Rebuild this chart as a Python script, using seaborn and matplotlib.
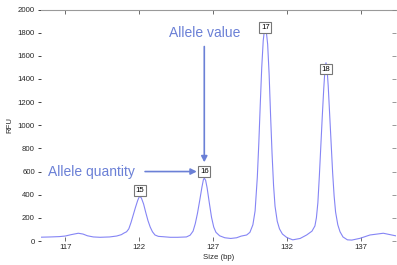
import matplotlib
matplotlib.use("Agg")
import matplotlib.pyplot as plt
import seaborn as sns
import pandas as pd

# ---- data ----
size_bp = [115.1, 116.0, 116.6, 117.0, 117.4, 117.88, 118.2, 118.5, 118.9, 119.35,
           120.0, 120.48, 120.8, 120.95, 121.15, 121.3, 121.45, 121.6, 121.75, 121.9,
           122.0, 122.05, 122.15, 122.3, 122.45, 122.6, 122.75, 122.9, 123.07, 123.3,
           123.63, 124.1, 124.6, 125.2, 125.45, 125.65, 125.8, 125.95, 126.1, 126.25,
           126.35, 126.41, 126.5, 126.6, 126.75, 126.9, 127.05, 127.2, 127.45, 127.8,
           128.2, 128.6, 128.9, 129.28, 129.5, 129.7, 129.85, 130.0, 130.1, 130.2,
           130.3, 130.4, 130.48, 130.54, 130.6, 130.7, 130.8, 130.9, 131.0, 131.1,
           131.2, 131.35, 131.5, 131.7, 132.0, 132.4, 132.9, 133.34, 133.7, 133.9,
           134.0, 134.1, 134.2, 134.3, 134.4, 134.5, 134.58, 134.65, 134.72, 134.8,
           134.9, 135.0, 135.1, 135.2, 135.3, 135.45, 135.6, 135.8, 136.1, 136.4,
           136.95, 137.63, 138.53, 139.44]
rfu = [32, 35, 38, 43, 55, 67, 60, 45, 35, 32,
       35, 43, 55, 67, 80, 105, 160, 225, 290, 350,
       380, 384, 372, 320, 245, 175, 120, 80, 52, 40,
       37, 32, 32, 35, 50, 85, 150, 240, 350, 465,
       530, 543, 525, 460, 330, 205, 120, 75, 45, 28,
       22, 28, 42, 52, 75, 140, 260, 550, 840, 1180,
       1500, 1730, 1820, 1840, 1820, 1700, 1440, 1080, 750, 480,
       300, 170, 105, 60, 30, 10, 22, 52, 85, 130,
       200, 330, 560, 820, 1080, 1320, 1480, 1540, 1490, 1340,
       1090, 840, 590, 390, 250, 140, 80, 35, 10, 8,
       23, 52, 67, 43]

allele_names = ["15", "16", "17", "18"]
allele_pos = [122.05, 126.41, 130.54, 134.65]
allele_label_y = [435, 600, 1845, 1485]

x_ticks = [117, 122, 127, 132, 137]
y_ticks = [0, 200, 400, 600, 800, 1000, 1200, 1400, 1600, 1800, 2000]

df = pd.DataFrame({"Size (bp)": size_bp, "RFU": rfu})

# ---- style ----
sns.set_style("white")
plt.rcParams["font.family"] = ["Liberation Sans", "DejaVu Sans"]

W, H = 397, 265
fig = plt.figure(figsize=(W / 100, H / 100), dpi=100)
left_px, right_px, top_px, bottom_px = 40.5, 396.0, 9.5, 241.0
ax = fig.add_axes([left_px / W, (H - bottom_px) / H,
                   (right_px - left_px) / W, (bottom_px - top_px) / H])

line_col = "#8585f5"
sns.lineplot(data=df, x="Size (bp)", y="RFU", ax=ax, color=line_col, linewidth=0.8)

x_lo = 117 - (65.3 - left_px) / 14.77
x_hi = 137 + (right_px - 360.7) / 14.77
ax.set_xlim(x_lo, x_hi)
ax.set_ylim(0, 2000)

ax.set_xticks(x_ticks)
ax.set_yticks(y_ticks)
ax.set_xticklabels([str(t) for t in x_ticks], fontsize=5.6)
ax.set_yticklabels([str(t) for t in y_ticks], fontsize=5.6)
ax.tick_params(axis="x", which="both", direction="in", length=3, width=0.6,
               color="#555555", top=True, bottom=True, pad=2)
ax.tick_params(axis="y", which="both", direction="out", length=2.5, width=0.6,
               color="#222222", left=True, right=False, pad=1.5)

# right-side inward ticks in gray
ax_r = ax.twinx()
ax_r.set_ylim(0, 2000)
ax_r.set_yticks(y_ticks)
ax_r.set_yticklabels([])
ax_r.tick_params(axis="y", direction="in", length=3, width=0.6, color="#888888")
for s in ["left", "right", "bottom", "top"]:
    ax_r.spines[s].set_visible(False)

ax.spines["left"].set_visible(False)
ax.spines["right"].set_visible(False)
ax.spines["bottom"].set_visible(False)
ax.spines["top"].set_color("#9a9a9a")
ax.spines["top"].set_linewidth(0.8)

ax.set_xlabel("Size (bp)", fontsize=5.6, labelpad=2)
ax.set_ylabel("RFU", fontsize=5.6, labelpad=3)

# allele labels in boxes
for name, xp, yp in zip(allele_names, allele_pos, allele_label_y):
    ax.text(xp, yp, name, fontsize=5.6, ha="center", va="center", color="black",
            bbox=dict(boxstyle="square,pad=0.22", fc="white", ec="#777777", lw=0.8),
            zorder=5)

ann_col = "#6b80d6"
# Allele value
ax.annotate("", xy=(126.41, 680), xytext=(126.41, 1680),
            arrowprops=dict(arrowstyle="-|>,head_length=0.35,head_width=0.18",
                            color=ann_col, lw=1.2, shrinkA=0, shrinkB=0))
ax.text(126.41, 1800, "Allele value", fontsize=10, color=ann_col,
        ha="center", va="center")
# Allele quantity
ax.annotate("", xy=(125.9, 600), xytext=(122.4, 600),
            arrowprops=dict(arrowstyle="-|>,head_length=0.35,head_width=0.18",
                            color=ann_col, lw=1.2, shrinkA=0, shrinkB=0))
ax.text(118.75, 600, "Allele quantity", fontsize=10, color=ann_col,
        ha="center", va="center")

fig.savefig("out.png", dpi=100)
